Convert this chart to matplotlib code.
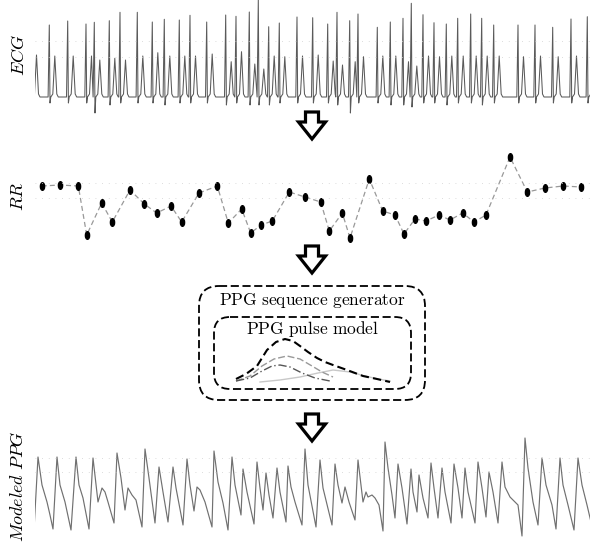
import matplotlib
matplotlib.use("Agg")
import matplotlib.pyplot as plt
import numpy as np
from matplotlib.path import Path
from matplotlib.patches import FancyBboxPatch, Polygon

plt.rcParams['mathtext.fontset'] = 'cm'

# ECG beats: R time, R amplitude, S depth, T amplitude
r_times = [31, 49.3, 67.7, 86, 94.3, 109.3, 120, 137.3, 152.3, 164.3, 179.3, 190, 206.7, 225.7,
           236, 249.3, 258.3, 268.7, 279.3, 297, 312.7, 327.7, 337, 349.7, 358, 377.3, 390.3,
           403, 411.3, 423, 434, 446.3, 457.7, 470.7, 481.7, 493.7, 518, 535, 552.7, 571, 587.3]
r_amp = [70, 72, 76, 73, 74.7, 76.3, 84.7, 84.7, 75, 77.7, 77, 81.7, 75, 82, 80.7, 85, 97, 70.3,
         74, 80, 79.3, 73, 84.7, 76.3, 83, 69.7, 75, 78.7, 93.7, 82.3, 74.3, 73, 78.7, 83, 78.7,
         72, 72, 72, 69.7, 78, 80.3]
s_depth = [6, 6, 6, 6, 16, 8, 6, 6, 6, 8, 6, 6, 6, 8, 6, 8, 8, 8, 6, 6, 6, 6, 8, 16, 6, 6, 8,
           8, 10, 6, 6, 8, 6, 6, 8, 6, 6, 6, 6, 6, 6]
t_amp = [42, 41, 41, 41, 37, 38.7, 37, 41, 44.3, 41, 41, 41, 43, 35.3, 45.3, 33, 28, 41, 40.3,
         41, 42, 36, 32, 35.3, 40.3, 41, 41, 35.3, 31, 41, 40.3, 41, 41, 41, 41, 41, 40.3, 41,
         40.3, 41, 41]

# RR series
rr_t = [41.7, 60, 78.3, 86.7, 101.7, 112.3, 130, 144.3, 156.7, 171, 181.7, 199, 217.3, 228.3,
        241.7, 250.7, 261, 272.3, 289.3, 305, 320.7, 329.3, 342.3, 350, 369.3, 382.7, 395, 404,
        415, 426, 439, 450, 462.7, 474, 486, 510, 527.3, 545, 563.3, 581]
rr_val = [64, 65, 64, 15, 47, 28, 60, 46, 37, 44, 28, 57, 64, 27, 41, 17, 25, 29, 58, 53, 48,
          19, 37, 12, 71, 39, 35, 16, 31, 29, 35, 30, 37, 28, 35, 93, 58, 62, 64, 63]

# Modeled PPG trace
ppg_t = [34, 38, 42, 47, 50, 53, 57, 60, 65, 71, 76, 79, 83, 89, 93, 98, 102, 105, 108, 114,
         117, 121, 125, 128, 132, 136, 142, 145, 149, 155, 159, 163, 168, 173, 176, 183,
         187, 190, 194, 197, 200, 205, 212, 214, 218, 223, 228, 232, 235, 241, 243, 247, 254,
         257, 260, 263, 266, 269, 273, 277, 280, 286, 288, 291, 295, 302, 305, 308, 316,
         320, 323, 332, 335, 338, 342, 345, 349, 355, 358, 361, 363, 366, 368, 372, 375, 379, 383,
         385, 388, 392, 395, 398, 402, 407, 411, 413, 417, 419, 423, 428, 431, 434, 438,
         442, 445, 451, 454, 458, 462, 465, 468, 475, 478, 482, 486, 489, 493, 498,
         502, 505, 510, 515, 518, 522, 525, 528, 533, 538, 542, 546, 552, 556,
         560, 563, 568, 574, 578, 582, 587, 591]
ppg_amp = [10, 83, 55, 38, 25, 11, 83, 55, 38, 10, 83, 55, 42, 11, 82, 38, 52, 48, 38, 17,
           87, 62, 30, 52, 45, 40, 13, 91, 62, 17, 73, 48, 18, 73, 52, 15,
           81, 55, 29, 53, 50, 38, 13, 89, 58, 37, 10, 83, 55, 25, 71, 48, 16,
           78, 52, 30, 67, 45, 22, 72, 48, 18, 74, 53, 38, 15, 91, 55, 13,
           80, 52, 15, 76, 55, 37, 53, 38, 20, 80, 55, 38, 48, 43, 45, 42, 35, 9,
           98, 72, 45, 22, 76, 52, 16, 71, 48, 28, 65, 42, 22, 77, 52, 22,
           72, 48, 17, 76, 52, 22, 72, 48, 17, 78, 52, 23, 68, 48, 17,
           78, 53, 43, 38, 35, 4, 102, 72, 38, 15, 82, 55, 35, 11,
           82, 55, 35, 10, 82, 55, 35, 18]

# pulse model sketch (total and components)
pm_total_x = [236, 246, 257, 267, 276, 285, 293, 300, 308, 317, 325, 333, 347, 363, 377, 390]
pm_total_y = [379, 374, 366, 350, 342, 339, 341, 346, 352, 358, 362, 365, 370, 376, 379, 382]
pm_c1_x = [236, 250, 262, 274, 287, 300, 312, 322, 333]
pm_c1_y = [381, 376, 366, 359, 356, 359, 366, 372, 377]
pm_c2_x = [236, 250, 262, 272, 280, 290, 302, 315, 330]
pm_c2_y = [381, 378, 371, 366, 365, 367, 373, 378, 381]
pm_c3_x = [260, 280, 300, 318, 333, 350, 365, 378, 390]
pm_c3_y = [382, 380, 377, 373, 370, 372, 376, 379, 381]

fig = plt.figure(figsize=(5.92, 5.44), dpi=100)

# build ECG polyline from beats
ecg_x, ecg_y = [], []
for i, r in enumerate(r_times):
    nxt = r_times[i + 1] if i + 1 < len(r_times) else 1e9
    pts = [(r - 1.2, 0), (r, r_amp[i]), (r + 0.7, -s_depth[i]), (r + 1.5, 0),
           (r + 3.5, 3), (r + 5.5, t_amp[i]), (r + 7.5, 3), (r + 9, 0)]
    for px, py in pts:
        if px < nxt - 1.2:
            ecg_x.append(px)
            ecg_y.append(py)

ax1 = fig.add_axes([35/592, 1 - 115/544, 555/592, 115/544])
ax1.plot(ecg_x, ecg_y, color='#5a5a5a', lw=0.75, solid_joinstyle='round')
for lv in [56, 40]:
    ax1.axhline(lv, color='#d0d0d0', lw=0.6, ls=(0, (1, 7)))
ax1.set_xlim(35, 590)
ax1.set_ylim(-18, 97)
ax1.axis('off')

circ = Path.unit_circle()
ell = Path(circ.vertices * [0.55, 1.0], circ.codes)

ax2 = fig.add_axes([35/592, 1 - 250/544, 555/592, 100/544])
ax2.plot(rr_t, rr_val, color='#999999', lw=0.9, ls=(0, (4, 2.5)))
ax2.plot(rr_t, rr_val, ls='none', marker=ell, ms=5.5, color='black')
for lv in [67, 52]:
    ax2.axhline(lv, color='#d0d0d0', lw=0.6, ls=(0, (1, 7)))
ax2.set_xlim(35, 590)
ax2.set_ylim(0, 100)
ax2.axis('off')

ax3 = fig.add_axes([35/592, 1 - 540/544, 555/592, 110/544])
ax3.plot(ppg_t, ppg_amp, color='#707070', lw=0.85, solid_joinstyle='round')
for lv in [82, 68]:
    ax3.axhline(lv, color='#d0d0d0', lw=0.6, ls=(0, (1, 7)))
ax3.set_xlim(35, 590)
ax3.set_ylim(0, 110)
ax3.axis('off')

# diagram layer in pixel units
axd = fig.add_axes([0, 0, 1, 1], zorder=-1)
axd.set_xlim(0, 592)
axd.set_ylim(544, 0)
axd.axis('off')

for y0 in [112, 246, 414]:
    cx = 312
    arrow = Polygon([(cx - 6.5, y0), (cx + 6.5, y0), (cx + 6.5, y0 + 10), (cx + 13.5, y0 + 10),
                     (cx, y0 + 27), (cx - 13.5, y0 + 10), (cx - 6.5, y0 + 10)],
                    closed=True, fc='white', ec='black', lw=2.3, joinstyle='miter')
    axd.add_patch(arrow)

outer = FancyBboxPatch((199, 286), 226, 114, boxstyle="round,pad=0,rounding_size=20",
                       fc='none', ec='black', lw=1.3, ls=(0, (4.5, 2)))
inner = FancyBboxPatch((214, 317), 197, 72, boxstyle="round,pad=0,rounding_size=16",
                       fc='none', ec='black', lw=1.3, ls=(0, (4.5, 2)))
axd.add_patch(outer)
axd.add_patch(inner)

axd.plot(pm_c3_x, pm_c3_y, color='#c8c8c8', lw=1.0)
axd.plot(pm_c1_x, pm_c1_y, color='#999999', lw=1.0, ls=(0, (5, 2)))
axd.plot(pm_c2_x, pm_c2_y, color='#555555', lw=1.0, ls=(0, (6, 2, 1, 2)))
axd.plot(pm_total_x, pm_total_y, color='black', lw=1.5, ls=(0, (4, 2)))

axd.text(312, 301, r'$\mathrm{PPG\ sequence\ generator}$', fontsize=12.5, ha='center', va='center')
axd.text(312, 329, r'$\mathrm{PPG\ pulse\ model}$', fontsize=12.5, ha='center', va='center')

axd.text(18.5, 55, r'$ECG$', fontsize=13, rotation=90, ha='center', va='center')
axd.text(18, 196, r'$RR$', fontsize=13, rotation=90, ha='center', va='center')
axd.text(18.5, 486, r'$Modeled\ PPG$', fontsize=13, rotation=90, ha='center', va='center')

fig.savefig('out.png', dpi=100)
